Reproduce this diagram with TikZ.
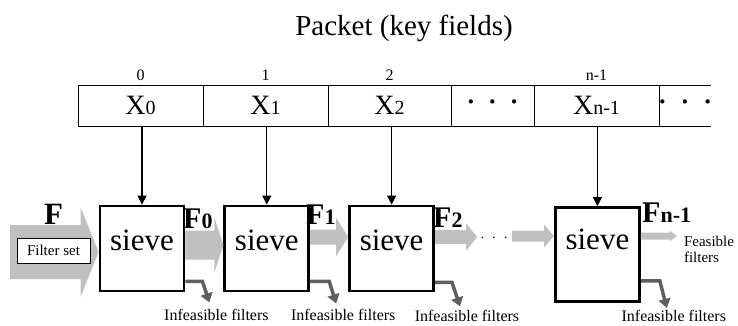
\documentclass[tikz,border=0pt]{standalone}
\usepackage{fontspec}
\setmainfont{Liberation Serif}
\usetikzlibrary{positioning, calc, arrows.meta}
\usepackage{xcolor}
\definecolor{FlowGray}{HTML}{C0C0C0}
\definecolor{DropGray}{HTML}{5F5F5F}
\newcommand{\fsize}[1]{\fontsize{#1}{#1}\selectfont}
% wide gray arrow: tail, tip, shaft half width, head half width, head length
\newcommand{\flowarrow}[5]{%
  \fill[FlowGray] ($(#1)+(0,-#3)$) -- ($(#2)+(-#5,-#3)$) -- ($(#2)+(-#5,-#4)$) -- (#2)
    -- ($(#2)+(-#5,#4)$) -- ($(#2)+(-#5,#3)$) -- ($(#1)+(0,#3)$) -- cycle;}

\begin{document}
\begin{tikzpicture}[
        x=1pt, y=-1pt,
        cell/.style={rectangle, draw, line width=1pt, minimum width=125pt, minimum height=41pt, inner sep=0pt, outer sep=0pt, font=\fsize{28}},
        idx/.style={inner sep=0pt, font=\fsize{16}},
        sieve/.style={rectangle, draw, line width=2.8pt, fill=white, minimum width=84pt, minimum height=85pt, text height=21pt, text depth=18pt, inner sep=0pt, font=\fsize{31}},
        flab/.style={anchor=base west, inner sep=0pt, font=\fsize{30}\bfseries},
        note/.style={inner sep=0pt, font=\fsize{16}},
        feed/.style={draw, line width=1.2pt, -{Triangle[length=9pt,width=9pt]}},
        drop/.style={draw=DropGray, line width=3.5pt, -{Triangle[length=9pt,width=12pt]}}
    ]
        \useasboundingbox (0,0) rectangle (738,325);

        % Packet
        \node (title) [anchor=base, inner sep=0pt, font=\fsize{29}] at (404,35) {Packet (key fields)};
        \node (c0) [cell, anchor=north west] at (78,85) {X{\fsize{20}0}};
        \node (c1) [cell, right=0pt of c0] {X{\fsize{20}1}};
        \node (c2) [cell, right=0pt of c1, minimum width=123pt] {X{\fsize{20}2}};
        \node (cd) [cell, right=0pt of c2, minimum width=83pt, font=\fsize{26}\bfseries] {·\hspace{13pt}·\hspace{13pt}·};
        \node (c3) [cell, right=0pt of cd] {X{\fsize{20}n-1}};
        \coordinate (cend) at (711,85);
        \draw [line width=1pt] (c3.north east) -- (cend);
        \draw [line width=1pt] (c3.south east) -- (cend |- c3.south);
        \node (ce) [inner sep=0pt, font=\fsize{26}\bfseries] at ($(c3.east)+(26,0)$) {·\hspace{14pt}·\hspace{14pt}·};

        \node [idx, above=4pt of c0] {0};
        \node [idx, above=4pt of c1] {1};
        \node [idx, above=4pt of c2] {2};
        \node [idx, above=4pt of c3] {n-1};

        % Sieves
        \node (s0) [sieve] at (142,248.5) {sieve};
        \node (s1) [sieve, right=38pt of s0] {sieve};
        \node (s2) [sieve, right=38pt of s1] {sieve};
        \node (s3) [sieve, minimum height=94pt, text depth=31pt, below right=1.5pt and 119pt of s2.north east] {sieve};

        \draw [feed] (c0.south -| s0.north) -- (s0.north);
        \draw [feed] (c1.south -| s1.north) -- (s1.north);
        \draw [feed] (c2.south -| s2.north) -- (s2.north);
        \draw [feed] (c3.south -| s3.north) -- (s3.north);

        % Filter flow
        \coordinate (fin) at (10,252);
        \coordinate (fout) at (fin -| s0.west);
        \coordinate (a0) at ($(s0.east)+(0,-3.5)$);
        \coordinate (b0) at (a0 -| s1.west);
        \coordinate (a1) at ($(s1.east)+(0,-11.5)$);
        \coordinate (b1) at (a1 -| s2.west);
        \coordinate (a2) at ($(s2.east)+(0,-11.5)$);
        \coordinate (b2) at ($(a2)+(42,0)$);
        \coordinate (a3) at ($(s3.west)+(-42,-18.5)$);
        \coordinate (b3) at (a3 -| s3.west);
        \coordinate (a4) at ($(s3.east)+(0,-18.5)$);
        \coordinate (b4) at ($(a4)+(36,0)$);
        \flowarrow{fin}{fout}{27}{45}{18}
        \flowarrow{a0}{b0}{14.5}{27.5}{9}
        \flowarrow{a1}{b1}{7.5}{19}{12}
        \flowarrow{a2}{b2}{7}{14}{11}
        \flowarrow{a3}{b3}{5.5}{11.5}{10}
        \flowarrow{a4}{b4}{3.5}{5.5}{7}
        \node (gap) [inner sep=0pt, font=\fsize{14}] at (494,240) {·\hspace{7pt}·\hspace{7pt}·};

        \node (fset) [draw, fill=white, line width=0.8pt, minimum width=73pt, minimum height=25pt, inner sep=0pt, font=\fsize{15}] at (53.5,250.5) {Filter set};

        % Labels
        \node (fl) [flab, font=\fsize{31}\bfseries] at (44,224) {F};
        \node (fl0) [flab] at (183,228) {F{\fsize{22}0}};
        \node (fl1) [flab] at (306,224) {F{\fsize{22}1}};
        \node (fl2) [flab] at (433,227) {F{\fsize{22}2}};
        \node (fl3) [flab] at (642,222) {F{\fsize{22}n-1}};
        \node (fe) [note, anchor=west, align=left, font=\fontsize{15}{16}\selectfont] at ($(b4)+(7,13)$) {Feasible\\filters};

        % Infeasible outputs
        \coordinate (d0) at ($(s0.south east)+(24,10)$);
        \coordinate (d1) at ($(s1.south east)+(26,11)$);
        \coordinate (d2) at ($(s2.south east)+(25,14)$);
        \coordinate (d3) at ($(s3.south east)+(26,5)$);
        \draw [drop] ($(s0.south east)+(0,-11)$) -- ++(17,0) -- (d0);
        \draw [drop] ($(s1.south east)+(0,-11)$) -- ++(19,0) -- (d1);
        \draw [drop] ($(s2.south east)+(0,-10)$) -- ++(17,0) -- (d2);
        \draw [drop] ($(s3.south east)+(0,-22)$) -- ++(19,0) -- (d3);
        \node (n0) [note] at ($(d0)+(7,13)$) {Infeasible filters};
        \node (n1) [note] at ($(d1)+(7,12)$) {Infeasible filters};
        \node (n2) [note] at ($(d2)+(7,10)$) {Infeasible filters};
        \node (n3) [note] at ($(d3)+(7,8)$) {Infeasible filters};
    \end{tikzpicture}
\end{document}
